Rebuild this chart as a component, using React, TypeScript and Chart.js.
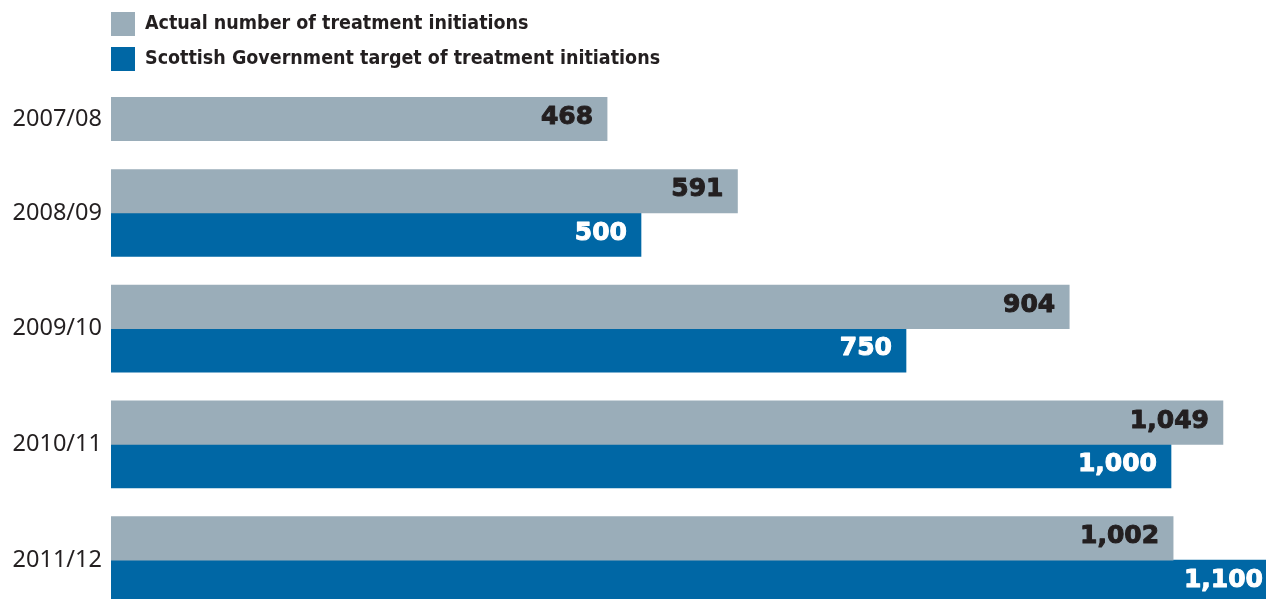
import React, { useEffect, useRef } from 'react';
import { Chart, registerables } from 'chart.js';

Chart.register(...registerables);

// ---- data ----
const categories = ['2007/08', '2008/09', '2009/10', '2010/11', '2011/12'];
const actual: (number | null)[] = [468, 591, 904, 1049, 1002];
const target: (number | null)[] = [null, 500, 750, 1000, 1100];
const seriesLabels = [
  'Actual number of treatment initiations',
  'Scottish Government target of treatment initiations',
];

// ---- style ----
const GREY = '#9aadb9';
const BLUE = '#0067a5';
const INK = '#231f20';
const BAR_PX = 43.5;
const ROW_GAP = 0.66; // gap between rows, in bar-thickness units
const CANVAS_W = 1330;
const CANVAS_H = 660;

function rowCenters(): number[] {
  const centers: number[] = [];
  let start = 0;
  categories.forEach((_, i) => {
    const n = [actual[i], target[i]].filter((v) => v != null).length;
    centers.push(start + n / 2);
    start += n + ROW_GAP;
  });
  return centers;
}

const valueLabels = {
  id: 'valueLabels',
  afterDatasetsDraw(chart: any) {
    const ctx = chart.ctx;
    ctx.save();
    ctx.font = 'bold 25px "DejaVu Sans", sans-serif';
    ctx.textAlign = 'right';
    ctx.textBaseline = 'middle';
    ctx.lineWidth = 1;
    ctx.lineJoin = 'round';
    chart.data.datasets.forEach((ds: any, di: number) => {
      const meta = chart.getDatasetMeta(di);
      meta.data.forEach((el: any, i: number) => {
        const v = ds.data[i].x;
        if (v == null) return;
        const col = di === 0 ? INK : '#ffffff';
        const txt = Number(v).toLocaleString('en-US');
        ctx.fillStyle = col;
        ctx.strokeStyle = col;
        ctx.fillText(txt, el.x - 14, el.y - 1.5);
        ctx.strokeText(txt, el.x - 14, el.y - 1.5);
      });
    });
    ctx.restore();
  },
};

const stackedLegend = {
  id: 'stackedLegend',
  afterDraw(chart: any) {
    const ctx = chart.ctx;
    const left = chart.chartArea.left;
    ctx.save();
    ctx.font = 'bold 19.5px "DejaVu Sans Condensed", sans-serif';
    ctx.textAlign = 'left';
    ctx.textBaseline = 'middle';
    chart.data.datasets.forEach((ds: any, di: number) => {
      const top = 12 + di * 35;
      ctx.fillStyle = ds.backgroundColor;
      ctx.fillRect(left, top, 24, 24);
      ctx.fillStyle = INK;
      ctx.fillText(ds.label, left + 34, top + 12);
    });
    ctx.restore();
  },
};

export default function App() {
  const ref = useRef<HTMLCanvasElement | null>(null);

  useEffect(() => {
    if (!ref.current) return;
    const centers = rowCenters();
    const common = { barThickness: BAR_PX, skipNull: true, grouped: true, borderWidth: 0 };
    const chart = new Chart(ref.current, {
      type: 'bar',
      data: {
        datasets: [
          {
            label: seriesLabels[0],
            data: actual.map((v, i) => ({ x: v, y: centers[i] })),
            backgroundColor: GREY,
            ...common,
          },
          {
            label: seriesLabels[1],
            data: target.map((v, i) => ({ x: v, y: centers[i] })),
            backgroundColor: BLUE,
            ...common,
          },
        ] as any,
      },
      options: {
        indexAxis: 'y',
        responsive: false,
        animation: false,
        layout: { padding: { top: 75.5, bottom: 40.75, left: 0, right: 0 } },
        scales: {
          x: { type: 'linear', display: false, min: 0, max: 1150 },
          y: {
            type: 'linear',
            reverse: true,
            offset: false,
            min: -0.5,
            max: 12,
            grid: { display: false, drawTicks: false, offset: false },
            border: { display: false },
            afterBuildTicks: (s: any) => {
              s.ticks = centers.map((v) => ({ value: v }));
            },
            afterFit: (s: any) => {
              s.width = 111;
            },
            ticks: {
              autoSkip: false,
              padding: 9,
              color: INK,
              font: { family: '"Noto Sans", sans-serif', size: 23.5 },
              callback: (_v: any, i: number) => categories[i],
            },
          },
        },
        plugins: {
          legend: { display: false },
          tooltip: { enabled: false },
        },
      } as any,
      plugins: [valueLabels, stackedLegend],
    });
    return () => chart.destroy();
  }, []);

  return (
    <div
      style={{
        position: 'fixed',
        left: 0,
        top: 0,
        width: 1266,
        height: 599,
        overflow: 'hidden',
        background: '#ffffff',
      }}
    >
      <canvas
        ref={ref}
        width={CANVAS_W}
        height={CANVAS_H}
        style={{ display: 'block', width: CANVAS_W, height: CANVAS_H }}
      />
    </div>
  );
}
